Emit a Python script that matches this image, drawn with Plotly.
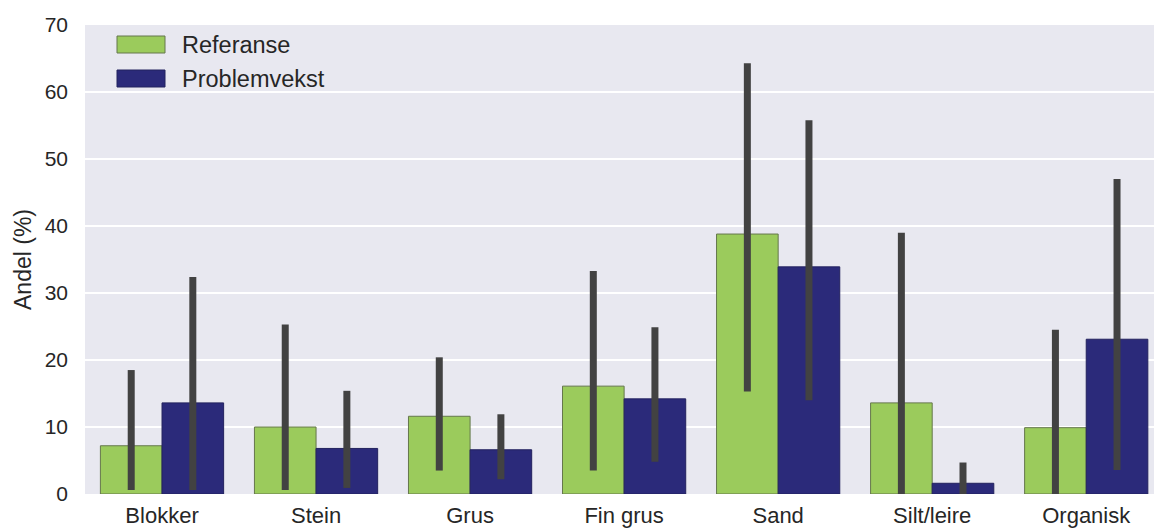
import plotly.graph_objects as go

# Sediment classes and group names
categories = ["Blokker", "Stein", "Grus", "Fin grus", "Sand", "Silt/leire", "Organisk"]
series_names = ["Referanse", "Problemvekst"]

# Mean share (%) per class
referanse = [7.2, 10.0, 11.6, 16.1, 38.8, 13.6, 9.9]
problemvekst = [13.6, 6.8, 6.6, 14.2, 33.9, 1.6, 23.1]

# Confidence interval bounds (%)
referanse_lo = [0.6, 0.6, 3.5, 3.5, 15.3, 0.0, 0.0]
referanse_hi = [18.5, 25.3, 20.4, 33.3, 64.3, 39.0, 24.5]
problemvekst_lo = [0.6, 0.9, 2.2, 4.8, 14.0, 0.0, 3.6]
problemvekst_hi = [32.4, 15.4, 11.9, 24.9, 55.8, 4.7, 47.0]

y_ticks = [0, 10, 20, 30, 40, 50, 60, 70]

GREEN = "#9bcb5c"
NAVY = "#2b2a7a"
ERR = "#424242"
BG = "#e8e8f0"
FONT = "Liberation Sans, Arial, sans-serif"
TEXT = "#262626"


def err(vals, lo, hi):
    return dict(
        type="data",
        symmetric=False,
        array=[h - v for v, h in zip(vals, hi)],
        arrayminus=[v - l for v, l in zip(vals, lo)],
        color=ERR,
        thickness=7,
        width=0,
    )


fig = go.Figure()
fig.add_trace(go.Bar(
    x=categories, y=referanse, name=series_names[0],
    marker=dict(color=GREEN, line=dict(color="#65774c", width=1)),
    error_y=err(referanse, referanse_lo, referanse_hi),
    showlegend=False,
))
fig.add_trace(go.Bar(
    x=categories, y=problemvekst, name=series_names[1],
    marker=dict(color=NAVY, line=dict(color="#23225e", width=1)),
    error_y=err(problemvekst, problemvekst_lo, problemvekst_hi),
    showlegend=False,
))

# Legend drawn as swatches + labels in the upper-left corner of the plot
L, R, B, T = 85, 1154, 494, 25
W, H = R - L, B - T


def px(x):
    return (x - L) / W


def py(y):
    return (B - y) / H


shapes = []
annotations = []
for i, (name, col, edge) in enumerate(zip(series_names, [GREEN, NAVY], ["#65774c", "#23225e"])):
    cy = 44.5 + 34 * i
    shapes.append(dict(
        type="rect", xref="paper", yref="paper",
        x0=px(117), x1=px(165), y0=py(cy + 8.5), y1=py(cy - 8.5),
        fillcolor=col, line=dict(color=edge, width=1),
    ))
    annotations.append(dict(
        xref="paper", yref="paper", x=px(180), y=py(cy),
        xanchor="left", yanchor="middle", text=name, showarrow=False,
        font=dict(family=FONT, size=23.5, color=TEXT),
    ))

fig.update_layout(
    width=1154, height=529,
    margin=dict(l=L, r=1154 - R, t=T, b=529 - B),
    paper_bgcolor="white",
    plot_bgcolor=BG,
    barmode="group",
    bargap=0.2,
    bargroupgap=0,
    font=dict(family=FONT, size=21, color=TEXT),
    shapes=shapes,
    annotations=annotations,
    xaxis=dict(
        range=[-0.5, 6.44],
        showgrid=False, zeroline=False, showline=False,
        ticks="", ticklabelstandoff=6, automargin=False,
        tickfont=dict(size=22, color=TEXT),
    ),
    yaxis=dict(
        range=[0, 70],
        tickvals=y_ticks,
        showgrid=True, gridcolor="white", gridwidth=2,
        zeroline=False, showline=False, ticks="",
        ticklabelstandoff=16, automargin=False,
        tickfont=dict(size=21, color=TEXT),
        title=dict(text="Andel (%)", font=dict(size=23, color=TEXT), standoff=6),
    ),
)

fig.write_html("out.html")
